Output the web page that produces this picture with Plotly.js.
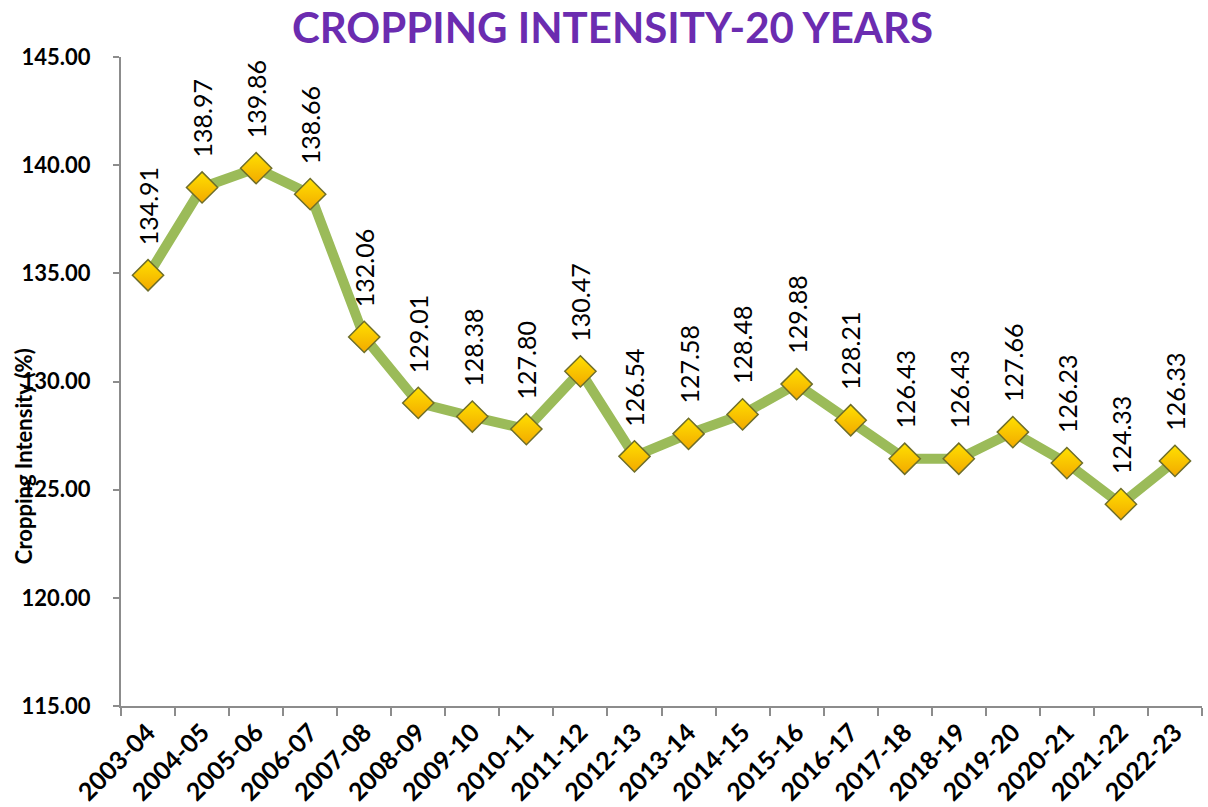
<!DOCTYPE html>
<html>
<head>
<meta charset="utf-8">
<script src="https://cdn.plot.ly/plotly-3.0.1.min.js"></script>
<style>
  html, body { margin: 0; padding: 0; background: #ffffff; }
  #chart { width: 1208px; height: 807px; }
</style>
</head>
<body>
<div id="chart"></div>
<script>
// Crop years (categories)
const years = [
  '2003-04', '2004-05', '2005-06', '2006-07', '2007-08',
  '2008-09', '2009-10', '2010-11', '2011-12', '2012-13',
  '2013-14', '2014-15', '2015-16', '2016-17', '2017-18',
  '2018-19', '2019-20', '2020-21', '2021-22', '2022-23'
];

// Cropping intensity (%)
const intensity = [
  134.91, 138.97, 139.86, 138.66, 132.06,
  129.01, 128.38, 127.80, 130.47, 126.54,
  127.58, 128.48, 129.88, 128.21, 126.43,
  126.43, 127.66, 126.23, 124.33, 126.33
];

const yTicks = [115, 120, 125, 130, 135, 140, 145];

const labelFont = 'Lato, "Open Sans", "DejaVu Sans", sans-serif';

const trace = {
  x: years,
  y: intensity,
  type: 'scatter',
  mode: 'lines+markers',
  line: { color: '#9BBB59', width: 10 },
  marker: {
    symbol: 'diamond',
    size: 24,
    color: '#FFE000',
    gradient: { type: 'vertical', color: '#F2A900' },
    line: { color: '#6E6E2A', width: 1.5 }
  },
  hoverinfo: 'x+y',
  showlegend: false
};

// Rotated data labels above each point
const dataLabels = years.map((yr, i) => ({
  x: yr,
  y: intensity[i],
  xref: 'x',
  yref: 'y',
  text: intensity[i].toFixed(2),
  textangle: -90,
  showarrow: false,
  xanchor: 'center',
  yanchor: 'bottom',
  yshift: 28,
  font: { family: labelFont, size: 25, color: '#000000' }
}));

const layout = {
  width: 1208,
  height: 807,
  paper_bgcolor: '#ffffff',
  plot_bgcolor: '#ffffff',
  margin: { t: 57, r: 6, l: 121, b: 101 },
  title: {
    text: '<b>CROPPING INTENSITY-20 YEARS</b>',
    font: { family: labelFont, size: 42, color: '#6B2CB0' },
    x: 0.507,
    xanchor: 'center',
    y: 0.965,
    yanchor: 'middle'
  },
  xaxis: {
    type: 'category',
    range: [-0.5, years.length - 0.5],
    showline: true,
    linecolor: '#8C8C8C',
    linewidth: 2,
    showgrid: false,
    zeroline: false,
    ticks: 'outside',
    tickson: 'boundaries',
    ticklen: 8,
    tickwidth: 2,
    tickcolor: '#8C8C8C',
    tickangle: -45,
    tickfont: { family: labelFont, size: 25, color: '#000000', weight: 'bold' }
  },
  yaxis: {
    range: [115, 145],
    tickvals: yTicks,
    ticktext: yTicks.map(v => v.toFixed(2)),
    showline: true,
    linecolor: '#8C8C8C',
    linewidth: 2,
    showgrid: false,
    zeroline: false,
    ticks: 'outside',
    ticklen: 6,
    tickwidth: 2,
    tickcolor: '#8C8C8C',
    ticklabelstandoff: 18,
    tickfont: { family: labelFont, size: 22, color: '#000000', weight: 'bold' }
  },
  annotations: dataLabels.concat([{
    // y axis title, sitting lower than centre like the source
    xref: 'paper',
    yref: 'paper',
    x: 0,
    y: 0.385,
    xshift: -98,
    text: '<b>Cropping Intensity (%)</b>',
    textangle: -90,
    showarrow: false,
    xanchor: 'center',
    yanchor: 'middle',
    font: { family: labelFont, size: 22, color: '#000000' }
  }])
};

Plotly.newPlot('chart', [trace], layout, { displayModeBar: false, staticPlot: true });
</script>
</body>
</html>
